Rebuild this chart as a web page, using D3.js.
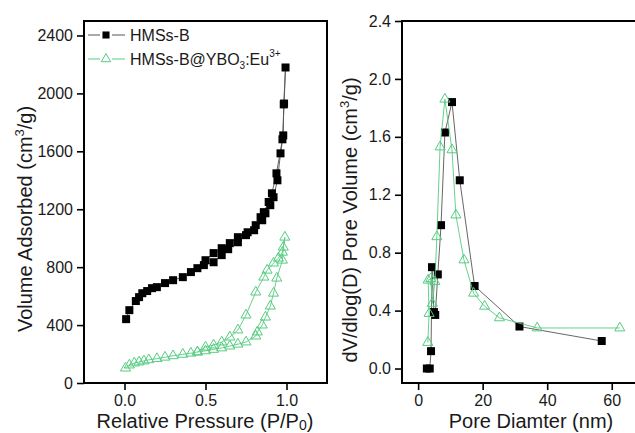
<!DOCTYPE html>
<html>
<head>
<meta charset="utf-8">
<script src="https://cdn.jsdelivr.net/npm/d3@7"></script>
<style>
  body { margin: 0; background: #fff; }
  svg { display: block; font-family: 'Liberation Sans', Arial, sans-serif; }
</style>
</head>
<body>
<svg id="chart" width="635" height="433"></svg>
<script>
// left panel: N2 isotherms, [P/P0, volume]
const hmsAds = [[0.01, 441], [0.03, 503], [0.07, 566], [0.09, 593], [0.11, 620], [0.14, 635], [0.17, 655], [0.20, 662], [0.25, 690], [0.30, 710], [0.36, 731], [0.41, 766], [0.45, 793], [0.49, 814], [0.55, 834], [0.60, 883], [0.64, 924], [0.70, 972], [0.75, 1021], [0.80, 1055], [0.85, 1124], [0.87, 1172], [0.90, 1228], [0.92, 1283], [0.944, 1400], [0.963, 1586], [0.98, 1710], [0.983, 1924], [0.994, 2179]]
const hmsDes = [[0.994, 2179], [0.985, 1930], [0.975, 1683], [0.938, 1448], [0.91, 1310], [0.89, 1250], [0.86, 1180], [0.84, 1145], [0.81, 1090], [0.76, 1041], [0.70, 1007], [0.65, 966], [0.60, 931], [0.55, 897], [0.50, 848]]
const ybAds = [[0.006, 103], [0.03, 124], [0.06, 138], [0.09, 145], [0.12, 152], [0.15, 160], [0.20, 168], [0.25, 178], [0.30, 188], [0.36, 198], [0.41, 206], [0.45, 214], [0.50, 222], [0.55, 232], [0.60, 242], [0.65, 255], [0.70, 268], [0.75, 283], [0.81, 324], [0.82, 352], [0.85, 400], [0.87, 455], [0.90, 531], [0.92, 620], [0.94, 724], [0.975, 848], [0.98, 938], [0.99, 1007]]
const ybDes = [[0.99, 1007], [0.975, 903], [0.95, 862], [0.92, 828], [0.88, 779], [0.86, 731], [0.81, 628], [0.75, 469], [0.70, 366], [0.65, 317], [0.60, 283], [0.55, 262], [0.50, 248], [0.45, 214]]
// right panel: pore size distribution, [diameter nm, dV/dlogD]
const hmsPore = [[2.7, 0.0], [3.6, 0.0], [4.0, 0.12], [4.3, 0.70], [4.9, 0.39], [5.3, 0.37], [6.1, 0.65], [7.1, 0.99], [8.3, 1.63], [10.5, 1.84], [12.9, 1.30], [17.5, 0.57], [31.4, 0.29], [56.9, 0.19]]
const ybPore = [[3.0, 0.18], [3.4, 0.38], [3.1, 0.61], [3.9, 0.62], [4.4, 0.45], [5.2, 0.60], [5.8, 0.91], [6.8, 1.53], [8.3, 1.86], [10.5, 1.51], [11.7, 1.06], [14.2, 0.75], [17.2, 0.52], [20.6, 0.43], [25.2, 0.35], [36.9, 0.28], [62.5, 0.28]]

const leftXTicks = [0, 0.5, 1.0]
const leftXMinor = [-0.25, 0.25, 0.75, 1.25]
const leftYTicks = [0, 400, 800, 1200, 1600, 2000, 2400]
const leftYMinor = [200, 600, 1000, 1400, 1800, 2200]
const rightXTicks = [0, 20, 40, 60]
const rightXMinor = [10, 30, 50]
const rightYTicks = [0, 0.4, 0.8, 1.2, 1.6, 2.0, 2.4]
const rightYMinor = [0.2, 0.6, 1.0, 1.4, 1.8, 2.2]

const green = '#55cc80'
const svg = d3.select('#chart')

function panel (box, xDom, yDom, xT, xM, yT, yM, xFmt, yFmt) {
  const x = d3.scaleLinear().domain(xDom).range([box.x0, box.x1])
  const y = d3.scaleLinear().domain(yDom).range([box.y1, box.y0])
  const g = svg.append('g')
  const axX = g.append('g').attr('transform', `translate(0,${box.y1})`)
  axX.call(d3.axisBottom(x).tickValues(xM).tickSize(4).tickFormat(''))
  axX.call(d3.axisBottom(x).tickValues(xT).tickSize(7).tickPadding(5).tickFormat(xFmt))
  const axY = g.append('g').attr('transform', `translate(${box.x0},0)`)
  axY.call(d3.axisLeft(y).tickValues(yM).tickSize(4).tickFormat(''))
  axY.call(d3.axisLeft(y).tickValues(yT).tickSize(7).tickPadding(4).tickFormat(yFmt))
  g.selectAll('.domain').remove()
  g.selectAll('.tick line').attr('stroke', '#000').attr('stroke-width', 1.6)
  g.selectAll('.tick text').attr('fill', '#1a1a1a').style('font-size', '16px')
  g.append('rect')
    .attr('x', box.x0).attr('y', box.y0)
    .attr('width', box.x1 - box.x0).attr('height', box.y1 - box.y0)
    .attr('fill', 'none').attr('stroke', '#000').attr('stroke-width', 2)
  return { g, x, y }
}

function series (p, data, color, lineColor, shape) {
  const line = d3.line().x(d => p.x(d[0])).y(d => p.y(d[1]))
  p.g.append('path')
    .attr('d', line(data))
    .attr('fill', 'none')
    .attr('stroke', lineColor)
    .attr('stroke-width', 0.9)
  const sym = shape === 'square'
    ? d3.symbol().type(d3.symbolSquare).size(64)
    : d3.symbol().type(d3.symbolTriangle).size(44)
  p.g.selectAll(null)
    .data(data)
    .enter()
    .append('path')
    .attr('d', sym)
    .attr('transform', d => `translate(${p.x(d[0])},${p.y(d[1])})`)
    .attr('fill', shape === 'square' ? '#000' : 'none')
    .attr('stroke', shape === 'square' ? 'none' : color)
    .attr('stroke-width', 1)
}

// left panel
const left = panel({ x0: 84, x1: 327, y0: 21, y1: 383 }, [-0.25, 1.25], [0, 2500],
  leftXTicks, leftXMinor, leftYTicks, leftYMinor, d3.format('.1f'), d3.format('d'))
series(left, hmsAds.concat(hmsDes.slice(1)), '#000', '#555', 'square')
series(left, ybAds.concat(ybDes.slice(1)), green, green, 'triangle')

// right panel
const right = panel({ x0: 402, x1: 644, y0: 21, y1: 383 }, [-5, 70], [-0.1, 2.4],
  rightXTicks, rightXMinor, rightYTicks, rightYMinor, d3.format('d'), d3.format('.1f'))
series(right, hmsPore, '#000', '#555', 'square')
series(right, ybPore, green, green, 'triangle')

// legend
const legend = [
  { color: '#555', shape: 'square', y: 35 },
  { color: green, shape: 'triangle', y: 59 }
]
legend.forEach(l => {
  svg.append('line')
    .attr('x1', 88).attr('x2', 100).attr('y1', l.y).attr('y2', l.y)
    .attr('stroke', l.color).attr('stroke-width', 1)
  svg.append('line')
    .attr('x1', 112).attr('x2', 125).attr('y1', l.y).attr('y2', l.y)
    .attr('stroke', l.color).attr('stroke-width', 1)
  const sym = l.shape === 'square'
    ? d3.symbol().type(d3.symbolSquare).size(50)
    : d3.symbol().type(d3.symbolTriangle).size(38)
  svg.append('path')
    .attr('d', sym)
    .attr('transform', `translate(106,${l.y})`)
    .attr('fill', l.shape === 'square' ? '#000' : '#fff')
    .attr('stroke', l.shape === 'square' ? 'none' : green)
})
svg.append('text').attr('x', 130).attr('y', 41).style('font-size', '16px').attr('fill', '#1a1a1a').text('HMSs-B')
const t2 = svg.append('text').attr('x', 130).attr('y', 65).style('font-size', '16px').attr('fill', '#1a1a1a')
t2.append('tspan').text('HMSs-B@YBO')
t2.append('tspan').attr('dy', 4).style('font-size', '10px').text('3')
t2.append('tspan').attr('dy', -4).text(':Eu')
t2.append('tspan').attr('dy', -8).style('font-size', '10px').text('3+')

// axis titles
const lx = svg.append('text').attr('x', 205).attr('y', 428).attr('text-anchor', 'middle').style('font-size', '20px').attr('fill', '#1a1a1a')
lx.append('tspan').text('Relative Pressure (P/P')
lx.append('tspan').attr('dy', 2).style('font-size', '14px').text('0')
lx.append('tspan').attr('dy', -2).text(')')

const ly = svg.append('text').attr('transform', 'translate(32,219) rotate(-90)').attr('text-anchor', 'middle').style('font-size', '20px').attr('fill', '#1a1a1a')
ly.append('tspan').text('Volume Adsorbed (cm')
ly.append('tspan').attr('dy', -8).style('font-size', '13px').text('3')
ly.append('tspan').attr('dy', 8).text('/g)')

svg.append('text').attr('x', 531).attr('y', 428).attr('text-anchor', 'middle').style('font-size', '20px').attr('fill', '#1a1a1a').text('Pore Diamter (nm)')

const ry = svg.append('text').attr('transform', 'translate(357,220) rotate(-90)').attr('text-anchor', 'middle').style('font-size', '20px').attr('fill', '#1a1a1a')
ry.append('tspan').text('dV/dlog(D) Pore Volume (cm')
ry.append('tspan').attr('dy', -8).style('font-size', '13px').text('3')
ry.append('tspan').attr('dy', 8).text('/g)')
</script>
</body>
</html>
